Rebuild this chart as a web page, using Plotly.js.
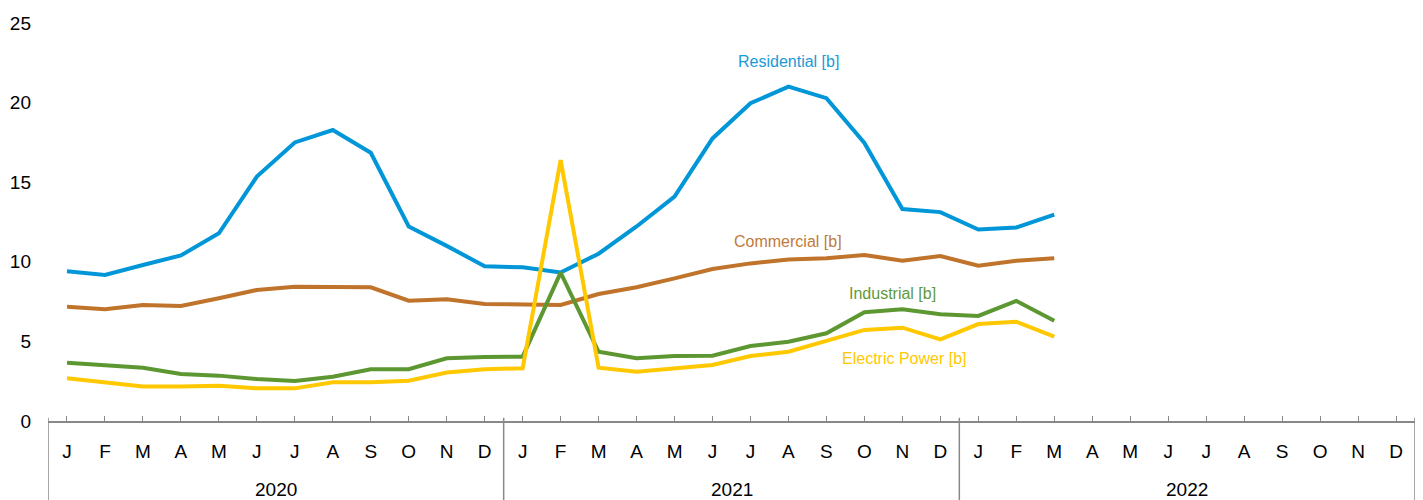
<!DOCTYPE html>
<html>
<head>
<meta charset="utf-8">
<script src="https://cdn.plot.ly/plotly-3.0.1.min.js"></script>
<style>html,body{margin:0;padding:0;background:#fff;}#chart{width:1423px;height:500px;}</style>
</head>
<body>
<div id="chart"></div>
<script>
const years = ['2020', '2021', '2022'];
const monthLetters = ['J','F','M','A','M','J','J','A','S','O','N','D'];
const residential = [9.40, 9.17, 9.80, 10.40, 11.79, 15.35, 17.50, 18.28, 16.85, 12.22, 11.00, 9.72,
                     9.65, 9.33, 10.51, 12.22, 14.10, 17.75, 19.96, 21.00, 20.28, 17.47, 13.31, 13.12,
                     12.03, 12.16, 12.97, null, null, null, null, null, null, null, null, null];
const commercial = [7.18, 7.02, 7.29, 7.22, 7.71, 8.23, 8.44, 8.44, 8.40, 7.56, 7.64, 7.35,
                    7.35, 7.29, 7.98, 8.40, 8.96, 9.55, 9.90, 10.15, 10.22, 10.43, 10.07, 10.36,
                    9.76, 10.07, 10.22, null, null, null, null, null, null, null, null, null];
const industrial = [3.66, 3.52, 3.35, 2.95, 2.85, 2.64, 2.51, 2.78, 3.25, 3.25, 3.94, 4.02,
                    4.04, 9.32, 4.35, 3.94, 4.08, 4.10, 4.71, 4.98, 5.51, 6.83, 7.02, 6.70,
                    6.60, 7.54, 6.30, null, null, null, null, null, null, null, null, null];
const electricPower = [2.68, 2.43, 2.16, 2.16, 2.22, 2.05, 2.05, 2.43, 2.43, 2.53, 3.04, 3.25,
                       3.31, 16.39, 3.35, 3.10, 3.31, 3.52, 4.08, 4.35, 5.03, 5.72, 5.86, 5.13,
                       6.09, 6.24, 5.30, null, null, null, null, null, null, null, null, null];
const seriesNames = ['Residential [b]', 'Commercial [b]', 'Industrial [b]', 'Electric Power [b]'];

const FONT = 'Liberation Sans, Arial, sans-serif';
const colors = ['#0096d7', '#c0732b', '#5d9732', '#ffc800'];
const labelColors = ['#1a9ad6', '#c07a3a', '#5f9a3a', '#ffc800'];
const seriesData = [residential, commercial, industrial, electricPower];

const nMonths = years.length * 12;
const xIdx = Array.from({length: nMonths}, (_, i) => i);
const tickText = xIdx.map(i => monthLetters[i % 12]);

const traces = seriesData.map((d, k) => ({
  x: xIdx, y: d, type: 'scatter', mode: 'lines', name: seriesNames[k],
  line: {color: colors[k], width: 4}, hoverinfo: 'skip', connectgaps: false
}));

// label positions (x index, y value)
const labelPos = [[19, 22.6], [19, 11.3], [21.75, 7.98], [22.05, 3.9]];
const annotations = seriesNames.map((n, k) => ({
  x: labelPos[k][0], y: labelPos[k][1], xref: 'x', yref: 'y', text: n, showarrow: false,
  font: {family: FONT, size: 16, color: labelColors[k]}, xanchor: 'center', yanchor: 'middle'
}));
years.forEach((yr, i) => {
  annotations.push({
    x: i * 12 + 5.5, y: -0.173, xref: 'x', yref: 'paper', text: yr, showarrow: false,
    font: {family: FONT, size: 19, color: '#000'}, xanchor: 'center', yanchor: 'middle'
  });
});

const shapes = [];
for (let i = 0; i <= years.length; i++) {
  shapes.push({type: 'line', xref: 'x', yref: 'paper', x0: i * 12 - 0.5, x1: i * 12 - 0.5,
    y0: 0.008, y1: -0.2, line: {color: '#888888', width: 1.5}, layer: 'above'});
}

const layout = {
  width: 1423, height: 500,
  margin: {l: 48, r: 8, t: 23, b: 79},
  paper_bgcolor: '#ffffff', plot_bgcolor: '#ffffff',
  showlegend: false,
  font: {family: FONT, size: 19, color: '#000'},
  xaxis: {
    range: [-0.5, nMonths - 0.5], tickmode: 'array', tickvals: xIdx, ticktext: tickText,
    showgrid: false, zeroline: false, showline: true, linecolor: '#888888', linewidth: 2,
    ticks: 'inside', ticklen: 5, tickcolor: '#888888', tickwidth: 1,
    ticklabelstandoff: 12, tickfont: {family: FONT, size: 19, color: '#000'}, fixedrange: true
  },
  yaxis: {
    range: [0, 25], tickvals: [0, 5, 10, 15, 20, 25], showgrid: false, zeroline: false,
    showline: false, ticks: '', ticklabelstandoff: 16,
    tickfont: {family: FONT, size: 19, color: '#000'}, fixedrange: true
  },
  annotations: annotations,
  shapes: shapes
};

Plotly.newPlot('chart', traces, layout, {displayModeBar: false, staticPlot: true});
</script>
</body>
</html>
